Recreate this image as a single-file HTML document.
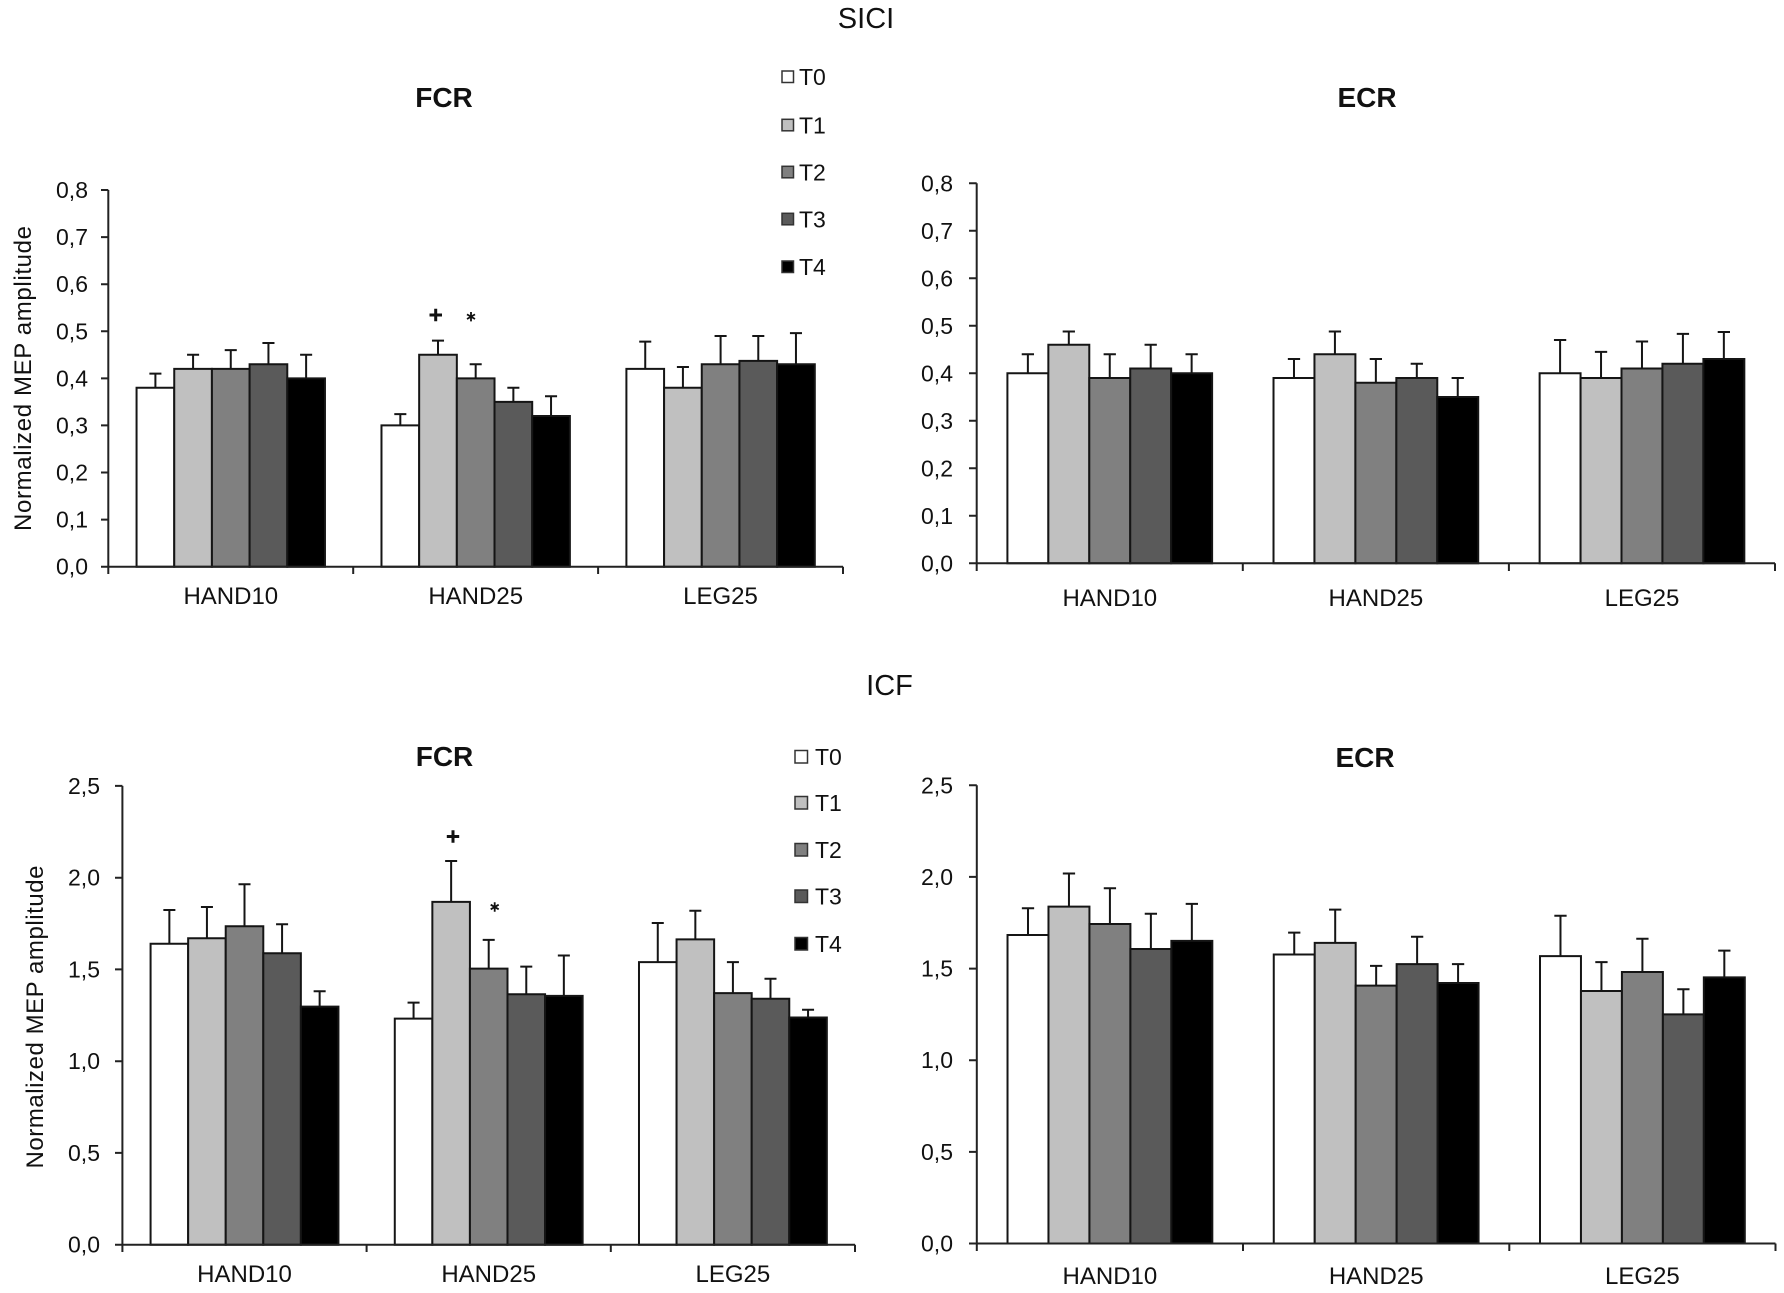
<!DOCTYPE html>
<html><head><meta charset="utf-8"><style>
html,body{margin:0;padding:0;background:#fff;}
svg{display:block;}
text{font-family:"Liberation Sans",Arial,sans-serif;fill:#111;}
.bars rect,.bars path{vector-effect:non-scaling-stroke;stroke:#151515;stroke-width:2;}
.bars path{fill:none;}
.f0{fill:#ffffff}.f1{fill:#c0c0c0}.f2{fill:#808080}.f3{fill:#5a5a5a}.f4{fill:#000000}
.ax{stroke:#222;stroke-width:2;fill:none;}
.tl{font-size:23px;text-anchor:end;}
.cl{font-size:24px;text-anchor:middle;}
.tt{font-size:28px;font-weight:bold;text-anchor:middle;}
.st{font-size:29px;text-anchor:middle;}
.lg{font-size:23px;}
.lgs{stroke:#333;stroke-width:1.5;}
.yl{font-size:24px;text-anchor:middle;}
.sym{stroke:#111;fill:none;}
</style></head><body>
<svg width="1784" height="1293" viewBox="0 0 1784 1293" xmlns="http://www.w3.org/2000/svg">
<rect width="1784" height="1293" fill="#fff"/>

<!-- ===== SICI ===== -->
<text class="st" x="866" y="28">SICI</text>
<text class="tt" x="444" y="107">FCR</text>
<text class="tt" x="1367" y="107">ECR</text>

<!-- legend top -->
<rect class="lgs f0" x="782" y="71" width="11.5" height="11.5"/>
<rect class="lgs f1" x="782" y="119.3" width="11.5" height="11.5"/>
<rect class="lgs f2" x="782" y="166.3" width="11.5" height="11.5"/>
<rect class="lgs f3" x="782" y="213.3" width="11.5" height="11.5"/>
<rect class="lgs f4" x="782" y="261" width="11.5" height="11.5"/>
<text class="lg" x="799" y="85">T0</text>
<text class="lg" x="799" y="133.3">T1</text>
<text class="lg" x="799" y="180.3">T2</text>
<text class="lg" x="799" y="227.3">T3</text>
<text class="lg" x="799" y="275">T4</text>

<!-- Chart A: SICI FCR -->
<text class="yl" transform="translate(31,378.5) rotate(-90)" textLength="305" lengthAdjust="spacing">Normalized  MEP  amplitude</text>
<g class="tl">
<text x="88" y="574.7">0,0</text><text x="88" y="527.6">0,1</text><text x="88" y="480.5">0,2</text>
<text x="88" y="433.4">0,3</text><text x="88" y="386.4">0,4</text><text x="88" y="339.3">0,5</text>
<text x="88" y="292.2">0,6</text><text x="88" y="245.1">0,7</text><text x="88" y="198">0,8</text>
</g>
<g class="bars" transform="translate(108.3,566.7) scale(37.68,-470.9)">
<rect class="f0" x="0.75" y="0" width="1" height=".38"/><rect class="f1" x="1.75" y="0" width="1" height=".42"/><rect class="f2" x="2.75" y="0" width="1" height=".42"/><rect class="f3" x="3.75" y="0" width="1" height=".43"/><rect class="f4" x="4.75" y="0" width="1" height=".40"/>
<rect class="f0" x="7.25" y="0" width="1" height=".30"/><rect class="f1" x="8.25" y="0" width="1" height=".45"/><rect class="f2" x="9.25" y="0" width="1" height=".40"/><rect class="f3" x="10.25" y="0" width="1" height=".35"/><rect class="f4" x="11.25" y="0" width="1" height=".32"/>
<rect class="f0" x="13.75" y="0" width="1" height=".42"/><rect class="f1" x="14.75" y="0" width="1" height=".38"/><rect class="f2" x="15.75" y="0" width="1" height=".43"/><rect class="f3" x="16.75" y="0" width="1" height=".437"/><rect class="f4" x="17.75" y="0" width="1" height=".43"/>
<path d="M1.25 .38V.41M1.09 .41H1.41M2.25 .42V.45M2.09 .45H2.41M3.25 .42V.46M3.09 .46H3.41M4.25 .43V.475M4.09 .475H4.41M5.25 .40V.45M5.09 .45H5.41"/>
<path d="M7.75 .30V.324M7.59 .324H7.91M8.75 .45V.48M8.59 .48H8.91M9.75 .40V.43M9.59 .43H9.91M10.75 .35V.38M10.59 .38H10.91M11.75 .32V.362M11.59 .362H11.91"/>
<path d="M14.25 .42V.478M14.09 .478H14.41M15.25 .38V.424M15.09 .424H15.41M16.25 .43V.49M16.09 .49H16.41M17.25 .437V.49M17.09 .49H17.41M18.25 .43V.496M18.09 .496H18.41"/>
</g>
<path class="ax" d="M108.3 190V574M101 566.7H843M101 519.6H108.3M101 472.5H108.3M101 425.4H108.3M101 378.4H108.3M101 331.3H108.3M101 284.2H108.3M101 237.1H108.3M101 190H108.3M353.2 566.7V574M598.1 566.7V574M843 566.7V574"/>
<text class="cl" x="230.8" y="604">HAND10</text>
<text class="cl" x="475.7" y="604">HAND25</text>
<text class="cl" x="720.5" y="604">LEG25</text>
<path class="sym" stroke-width="3" d="M429.5 315H442M435.7 308.8V321.2"/>
<path class="sym" stroke-width="1.8" d="M471 312V321.4M467 314.4L475 319M467 319L475 314.4"/>

<!-- Chart B: SICI ECR -->
<g class="tl">
<text x="953" y="571.3">0,0</text><text x="953" y="523.8">0,1</text><text x="953" y="476.3">0,2</text>
<text x="953" y="428.8">0,3</text><text x="953" y="381.3">0,4</text><text x="953" y="333.8">0,5</text>
<text x="953" y="286.3">0,6</text><text x="953" y="238.8">0,7</text><text x="953" y="191.3">0,8</text>
</g>
<g class="bars" transform="translate(976.7,563.3) scale(40.94,-475)">
<rect class="f0" x="0.75" y="0" width="1" height=".40"/><rect class="f1" x="1.75" y="0" width="1" height=".46"/><rect class="f2" x="2.75" y="0" width="1" height=".39"/><rect class="f3" x="3.75" y="0" width="1" height=".41"/><rect class="f4" x="4.75" y="0" width="1" height=".40"/>
<rect class="f0" x="7.25" y="0" width="1" height=".39"/><rect class="f1" x="8.25" y="0" width="1" height=".44"/><rect class="f2" x="9.25" y="0" width="1" height=".38"/><rect class="f3" x="10.25" y="0" width="1" height=".39"/><rect class="f4" x="11.25" y="0" width="1" height=".35"/>
<rect class="f0" x="13.75" y="0" width="1" height=".40"/><rect class="f1" x="14.75" y="0" width="1" height=".39"/><rect class="f2" x="15.75" y="0" width="1" height=".41"/><rect class="f3" x="16.75" y="0" width="1" height=".42"/><rect class="f4" x="17.75" y="0" width="1" height=".43"/>
<path d="M1.25 .40V.44M1.1 .44H1.4M2.25 .46V.488M2.1 .488H2.4M3.25 .39V.44M3.1 .44H3.4M4.25 .41V.46M4.1 .46H4.4M5.25 .40V.44M5.1 .44H5.4"/>
<path d="M7.75 .39V.43M7.6 .43H7.9M8.75 .44V.488M8.6 .488H8.9M9.75 .38V.43M9.6 .43H9.9M10.75 .39V.42M10.6 .42H10.9M11.75 .35V.39M11.6 .39H11.9"/>
<path d="M14.25 .40V.47M14.1 .47H14.4M15.25 .39V.445M15.1 .445H15.4M16.25 .41V.467M16.1 .467H16.4M17.25 .42V.483M17.1 .483H17.4M18.25 .43V.487M18.1 .487H18.4"/>
</g>
<path class="ax" d="M976.7 183.3V571M969 563.3H1775M969 515.8H976.7M969 468.3H976.7M969 420.8H976.7M969 373.3H976.7M969 325.8H976.7M969 278.3H976.7M969 230.8H976.7M969 183.3H976.7M1242.8 563.3V571M1508.9 563.3V571M1775 563.3V571"/>
<text class="cl" x="1109.8" y="606">HAND10</text>
<text class="cl" x="1375.9" y="606">HAND25</text>
<text class="cl" x="1642" y="606">LEG25</text>

<!-- ===== ICF ===== -->
<text class="st" x="889.5" y="695">ICF</text>
<text class="tt" x="444.5" y="766">FCR</text>
<text class="tt" x="1365" y="767">ECR</text>

<!-- legend bottom -->
<rect class="lgs f0" x="795" y="750.5" width="12.5" height="12.5"/>
<rect class="lgs f1" x="795" y="796.5" width="12.5" height="12.5"/>
<rect class="lgs f2" x="795" y="843.5" width="12.5" height="12.5"/>
<rect class="lgs f3" x="795" y="890" width="12.5" height="12.5"/>
<rect class="lgs f4" x="795" y="937.5" width="12.5" height="12.5"/>
<text class="lg" x="815" y="765">T0</text>
<text class="lg" x="815" y="811">T1</text>
<text class="lg" x="815" y="858">T2</text>
<text class="lg" x="815" y="904.5">T3</text>
<text class="lg" x="815" y="952">T4</text>

<!-- Chart C: ICF FCR -->
<text class="yl" transform="translate(43,1017) rotate(-90)" textLength="303" lengthAdjust="spacing">Normalized  MEP  amplitude</text>
<g class="tl">
<text x="100" y="1252.7">0,0</text><text x="100" y="1160.9">0,5</text><text x="100" y="1069.2">1,0</text>
<text x="100" y="977.4">1,5</text><text x="100" y="885.7">2,0</text><text x="100" y="793.9">2,5</text>
</g>
<g class="bars" transform="translate(122.4,1244.7) scale(37.57,-183.52)">
<rect class="f0" x="0.75" y="0" width="1" height="1.64"/><rect class="f1" x="1.75" y="0" width="1" height="1.67"/><rect class="f2" x="2.75" y="0" width="1" height="1.735"/><rect class="f3" x="3.75" y="0" width="1" height="1.588"/><rect class="f4" x="4.75" y="0" width="1" height="1.297"/>
<rect class="f0" x="7.25" y="0" width="1" height="1.232"/><rect class="f1" x="8.25" y="0" width="1" height="1.868"/><rect class="f2" x="9.25" y="0" width="1" height="1.504"/><rect class="f3" x="10.25" y="0" width="1" height="1.365"/><rect class="f4" x="11.25" y="0" width="1" height="1.356"/>
<rect class="f0" x="13.75" y="0" width="1" height="1.54"/><rect class="f1" x="14.75" y="0" width="1" height="1.664"/><rect class="f2" x="15.75" y="0" width="1" height="1.371"/><rect class="f3" x="16.75" y="0" width="1" height="1.34"/><rect class="f4" x="17.75" y="0" width="1" height="1.238"/>
<path d="M1.25 1.64V1.824M1.09 1.824H1.41M2.25 1.67V1.84M2.09 1.84H2.41M3.25 1.735V1.964M3.09 1.964H3.41M4.25 1.588V1.746M4.09 1.746H4.41M5.25 1.297V1.381M5.09 1.381H5.41"/>
<path d="M7.75 1.232V1.319M7.59 1.319H7.91M8.75 1.868V2.091M8.59 2.091H8.91M9.75 1.504V1.661M9.59 1.661H9.91M10.75 1.365V1.515M10.59 1.515H10.91M11.75 1.356V1.576M11.59 1.576H11.91"/>
<path d="M14.25 1.54V1.753M14.09 1.753H14.41M15.25 1.664V1.82M15.09 1.82H15.41M16.25 1.371V1.54M16.09 1.54H16.41M17.25 1.34V1.449M17.09 1.449H17.41M18.25 1.238V1.28M18.09 1.28H18.41"/>
</g>
<path class="ax" d="M122.4 785.9V1252M115 1244.7H855M115 1152.9H122.4M115 1061.2H122.4M115 969.4H122.4M115 877.7H122.4M115 785.9H122.4M366.6 1244.7V1252M610.8 1244.7V1252M855 1244.7V1252"/>
<text class="cl" x="244.5" y="1282">HAND10</text>
<text class="cl" x="488.7" y="1282">HAND25</text>
<text class="cl" x="732.9" y="1282">LEG25</text>
<path class="sym" stroke-width="3" d="M446.8 836.5H459.2M453 830.3V842.7"/>
<path class="sym" stroke-width="1.8" d="M494.7 902.3V911.7M490.7 904.7L498.7 909.3M490.7 909.3L498.7 904.7"/>

<!-- Chart D: ICF ECR -->
<g class="tl">
<text x="953" y="1251.5">0,0</text><text x="953" y="1159.9">0,5</text><text x="953" y="1068.2">1,0</text>
<text x="953" y="976.6">1,5</text><text x="953" y="884.9">2,0</text><text x="953" y="793.3">2,5</text>
</g>
<g class="bars" transform="translate(976.8,1243.5) scale(40.96,-183.28)">
<rect class="f0" x="0.75" y="0" width="1" height="1.683"/><rect class="f1" x="1.75" y="0" width="1" height="1.838"/><rect class="f2" x="2.75" y="0" width="1" height="1.743"/><rect class="f3" x="3.75" y="0" width="1" height="1.607"/><rect class="f4" x="4.75" y="0" width="1" height="1.651"/>
<rect class="f0" x="7.25" y="0" width="1" height="1.577"/><rect class="f1" x="8.25" y="0" width="1" height="1.640"/><rect class="f2" x="9.25" y="0" width="1" height="1.407"/><rect class="f3" x="10.25" y="0" width="1" height="1.524"/><rect class="f4" x="11.25" y="0" width="1" height="1.421"/>
<rect class="f0" x="13.75" y="0" width="1" height="1.568"/><rect class="f1" x="14.75" y="0" width="1" height="1.378"/><rect class="f2" x="15.75" y="0" width="1" height="1.481"/><rect class="f3" x="16.75" y="0" width="1" height="1.25"/><rect class="f4" x="17.75" y="0" width="1" height="1.452"/>
<path d="M1.25 1.683V1.829M1.1 1.829H1.4M2.25 1.838V2.019M2.1 2.019H2.4M3.25 1.743V1.938M3.1 1.938H3.4M4.25 1.607V1.799M4.1 1.799H4.4M5.25 1.651V1.853M5.1 1.853H5.4"/>
<path d="M7.75 1.577V1.696M7.6 1.696H7.9M8.75 1.640V1.822M8.6 1.822H8.9M9.75 1.407V1.515M9.6 1.515H9.9M10.75 1.524V1.674M10.6 1.674H10.9M11.75 1.421V1.524M11.6 1.524H11.9"/>
<path d="M14.25 1.568V1.788M14.1 1.788H14.4M15.25 1.378V1.535M15.1 1.535H15.4M16.25 1.481V1.663M16.1 1.663H16.4M17.25 1.25V1.387M17.1 1.387H17.4M18.25 1.452V1.598M18.1 1.598H18.4"/>
</g>
<path class="ax" d="M976.8 785.3V1251M969 1243.5H1775.5M969 1151.9H976.8M969 1060.2H976.8M969 968.6H976.8M969 876.9H976.8M969 785.3H976.8M1243 1243.5V1251M1509.3 1243.5V1251M1775.5 1243.5V1251"/>
<text class="cl" x="1109.9" y="1284">HAND10</text>
<text class="cl" x="1376.2" y="1284">HAND25</text>
<text class="cl" x="1642.4" y="1284">LEG25</text>
</svg>
</body></html>
